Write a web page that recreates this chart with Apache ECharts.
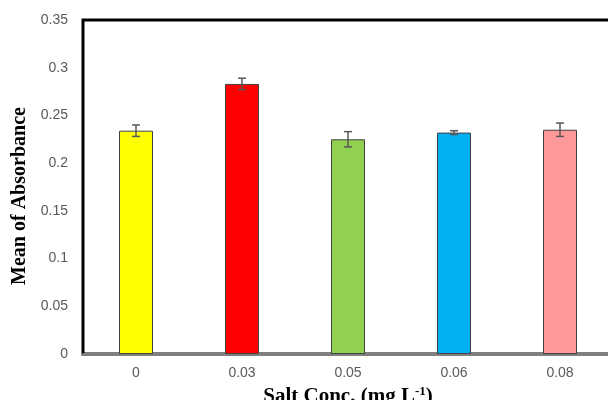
<!DOCTYPE html>
<html>
<head>
<meta charset="utf-8">
<script src="https://cdn.jsdelivr.net/npm/echarts@6/dist/echarts.min.js"></script>
<style>html,body{margin:0;padding:0;background:#fff;}#c{width:608px;height:400px;}</style>
</head>
<body>
<div id="c"></div>
<script>
const categories = ['0', '0.03', '0.05', '0.06', '0.08'];
const means = [0.234, 0.283, 0.225, 0.232, 0.235];
const errors = [0.006, 0.006, 0.008, 0.002, 0.007];
const colors = ['#FFFF00', '#FF0000', '#92D050', '#00B0F0', '#FF9999'];
const yTitle = 'Mean of Absorbance';

const chart = echarts.init(document.getElementById('c'));
chart.setOption({
  animation: false,
  grid: { left: 83, top: 20, bottom: 46, width: 530, outerBoundsMode: 'none', containLabel: false,
    show: true, borderColor: '#000', borderWidth: 3, backgroundColor: '#fff' },
  graphic: [{
    type: 'text', x: 20, y: 196, rotation: Math.PI / 2,
    style: { text: yTitle, fontFamily: 'Liberation Serif', fontWeight: 'bold', fontSize: 20, fill: '#000',
      align: 'center', verticalAlign: 'middle' }
  }],
  xAxis: {
    type: 'category', data: categories,
    axisLine: { lineStyle: { color: '#7f7f7f', width: 3 } },
    axisTick: { show: false },
    axisLabel: { color: '#595959', fontSize: 14, fontFamily: 'Liberation Sans', margin: 12 },
    name: '{a|Salt Conc. (mg L}{s|-1}{a|)}',
    nameLocation: 'middle', nameGap: 29,
    nameTextStyle: {
      rich: {
        a: { fontFamily: 'Liberation Serif', fontWeight: 'bold', fontSize: 21, color: '#000' },
        s: { fontFamily: 'Liberation Serif', fontWeight: 'bold', fontSize: 13, color: '#000', verticalAlign: 'top', padding: [0, 0, 10, 0] }
      }
    }
  },
  yAxis: {
    type: 'value', min: 0, max: 0.35, interval: 0.05,
    axisLine: { show: false },
    axisTick: { show: false },
    splitLine: { show: false },
    axisLabel: { color: '#595959', fontSize: 14, fontFamily: 'Liberation Sans', margin: 15 }
  },
  series: [
    {
      type: 'bar', barWidth: 34,
      data: means.map((v, i) => ({ value: v, itemStyle: { color: colors[i] } })),
      itemStyle: { borderColor: '#404040', borderWidth: 1 }
    },
    {
      type: 'custom', z: 10,
      data: means.map((v, i) => [i, v - errors[i], v + errors[i]]),
      renderItem: function (params, api) {
        const lo = api.coord([api.value(0), api.value(1)]);
        const hi = api.coord([api.value(0), api.value(2)]);
        const x = lo[0], w = 4;
        const st = { stroke: '#595959', lineWidth: 1.5 };
        return { type: 'group', children: [
          { type: 'line', shape: { x1: x, y1: lo[1], x2: x, y2: hi[1] }, style: st },
          { type: 'line', shape: { x1: x - w, y1: lo[1], x2: x + w, y2: lo[1] }, style: st },
          { type: 'line', shape: { x1: x - w, y1: hi[1], x2: x + w, y2: hi[1] }, style: st }
        ] };
      }
    }
  ]
});
</script>
</body>
</html>
